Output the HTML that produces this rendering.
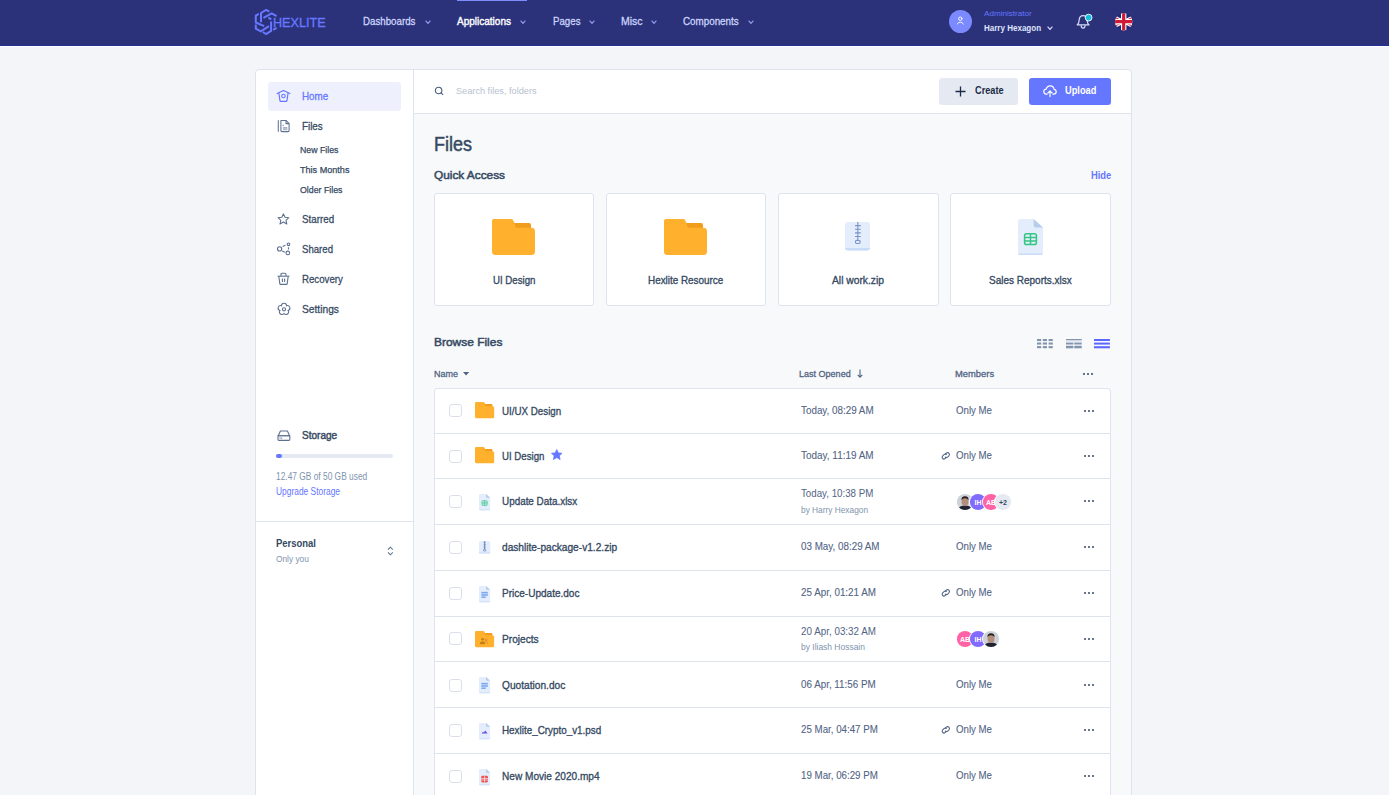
<!DOCTYPE html><html><head><meta charset="utf-8"><style>
html,body{margin:0;padding:0;width:1389px;height:795px;overflow:hidden;background:#f4f5f9;font-family:"Liberation Sans",sans-serif;}
</style></head><body>
<div style="position:absolute;left:0px;top:0px;width:1389px;height:45px;background:#2b327a"></div>
<div style="position:absolute;left:0px;top:45px;width:1389px;height:1px;background:#232e96"></div>
<div style="position:absolute;left:0px;top:46px;width:1389px;height:1px;background:#ffffff"></div>
<div style="position:absolute;left:457px;top:0px;width:70px;height:1px;background:#7f8cff"></div>
<svg style="position:absolute;left:252px;top:6px;overflow:visible" width="28" height="32" viewBox="0 0 28 32"><g fill="none" stroke="#6877ff" stroke-width="2" stroke-linejoin="miter" stroke-linecap="butt"><path d="M6.8 7.9 L3.8 9.6 V16.5 L12.2 20.2"/><path d="M3.8 18.4 V22.6 L8.8 25.3 L17 20.2"/><path d="M9 16.2 V7 L14.1 3.9 L17.4 5.7"/><path d="M11.4 11.8 L19.7 7.4 L24.6 10.2"/><path d="M16.4 11.7 L19.3 13.4"/><path d="M19.1 15.4 V24.9 L14.1 28.1 L10.8 26"/><path d="M21.2 23.8 L24.6 21.9"/></g></svg>
<div style="position:absolute;left:273.20px;top:16.00px;font-size:13.60px;line-height:13.60px;color:#6877ff;white-space:nowrap;transform:scaleX(0.9279);transform-origin:0 0;-webkit-text-stroke:0.35px #6877ff;">HEXLITE</div>
<div style="position:absolute;left:363.40px;top:16.00px;font-size:11.40px;line-height:11.40px;color:#cdd4fb;white-space:nowrap;transform:scaleX(0.8541);transform-origin:0 0;-webkit-text-stroke:0.30px #cdd4fb;">Dashboards</div>
<div style="position:absolute;left:457.30px;top:16.00px;font-size:11.40px;line-height:11.40px;color:#ffffff;white-space:nowrap;transform:scaleX(0.8785);transform-origin:0 0;-webkit-text-stroke:0.40px #ffffff;">Applications</div>
<div style="position:absolute;left:552.50px;top:16.00px;font-size:11.40px;line-height:11.40px;color:#cdd4fb;white-space:nowrap;transform:scaleX(0.8509);transform-origin:0 0;-webkit-text-stroke:0.30px #cdd4fb;">Pages</div>
<div style="position:absolute;left:620.50px;top:16.00px;font-size:11.40px;line-height:11.40px;color:#cdd4fb;white-space:nowrap;transform:scaleX(0.9220);transform-origin:0 0;-webkit-text-stroke:0.30px #cdd4fb;">Misc</div>
<div style="position:absolute;left:683.20px;top:16.00px;font-size:11.40px;line-height:11.40px;color:#cdd4fb;white-space:nowrap;transform:scaleX(0.8617);transform-origin:0 0;-webkit-text-stroke:0.30px #cdd4fb;">Components</div>
<svg style="position:absolute;left:425px;top:19.5px" width="6" height="4" viewBox="0 0 6 4"><path d="M0.6 0.6 L3.0 3.4 L5.4 0.6" fill="none" stroke="#8d98e8" stroke-width="1.2"/></svg>
<svg style="position:absolute;left:520px;top:19.5px" width="6" height="4" viewBox="0 0 6 4"><path d="M0.6 0.6 L3.0 3.4 L5.4 0.6" fill="none" stroke="#8d98e8" stroke-width="1.2"/></svg>
<svg style="position:absolute;left:589px;top:19.5px" width="6" height="4" viewBox="0 0 6 4"><path d="M0.6 0.6 L3.0 3.4 L5.4 0.6" fill="none" stroke="#8d98e8" stroke-width="1.2"/></svg>
<svg style="position:absolute;left:651px;top:19.5px" width="6" height="4" viewBox="0 0 6 4"><path d="M0.6 0.6 L3.0 3.4 L5.4 0.6" fill="none" stroke="#8d98e8" stroke-width="1.2"/></svg>
<svg style="position:absolute;left:748px;top:19.5px" width="6" height="4" viewBox="0 0 6 4"><path d="M0.6 0.6 L3.0 3.4 L5.4 0.6" fill="none" stroke="#8d98e8" stroke-width="1.2"/></svg>
<div style="position:absolute;left:949px;top:10px;width:23px;height:23px;background:#7b8bff;border-radius:50%"></div>
<svg style="position:absolute;left:954px;top:15px;overflow:visible" width="13" height="13" viewBox="0 0 13 13"><g fill="none" stroke="#fff" stroke-width="0.9" stroke-linecap="round"><circle cx="6.3" cy="3.7" r="1.7"/><path d="M3.2 9 Q6.3 5 9.4 9"/></g></svg>
<div style="position:absolute;left:983.60px;top:10.00px;font-size:7.20px;line-height:7.20px;color:#6576ff;white-space:nowrap;transform:scaleX(1.1270);transform-origin:0 0;">Administrator</div>
<div style="position:absolute;left:983.60px;top:23.00px;font-size:9.90px;line-height:9.90px;color:#dfe4fb;white-space:nowrap;transform:scaleX(0.8122);transform-origin:0 0;font-weight:700;">Harry Hexagon</div>
<svg style="position:absolute;left:1046.5px;top:26px" width="6" height="4" viewBox="0 0 6 4"><path d="M0.6 0.6 L3.0 3.4 L5.4 0.6" fill="none" stroke="#c7cef8" stroke-width="1.3"/></svg>
<svg style="position:absolute;left:1075px;top:13px;overflow:visible" width="17" height="17" viewBox="0 0 17 17"><g fill="none" stroke="#d5dbfa" stroke-width="1.2" stroke-linejoin="round"><path d="M2.2 11.8 Q3.6 10.8 3.9 8.6 L4.2 6.6 Q4.6 2.6 8.1 2.6 Q11.6 2.6 12 6.6 L12.3 8.6 Q12.6 10.8 14 11.8 Z"/><path d="M6.1 12.2 Q6.2 15.2 8.1 15.2 Q10 15.2 10.1 12.2"/></g></svg>
<svg style="position:absolute;left:1085px;top:14px;overflow:visible" width="8" height="8" viewBox="0 0 8 8"><circle cx="3.6" cy="3.6" r="3.4" fill="#12bfe0" stroke="#ffffff" stroke-width="0.9"/></svg>
<svg style="position:absolute;left:1114.8px;top:12.8px;overflow:visible" width="17.4" height="17.4" viewBox="0 0 17.4 17.4"><defs><clipPath id="fc"><circle cx="8.7" cy="8.7" r="8.7"/></clipPath></defs><g clip-path="url(#fc)"><rect x="-10" y="0" width="37.4" height="17.4" fill="#1b2a7c"/><path d="M-9.5 -0.5 L27 17.9 M27 -0.5 L-9.5 17.9" stroke="#fff" stroke-width="3.4"/><path d="M-9.5 -0.5 L8.7 8.7 M27 -0.5 L8.7 8.7 M-9.5 17.9 L8.7 8.7 M27 17.9 L8.7 8.7" stroke="#cf1a35" stroke-width="1.1"/><path d="M8.7 -1 V18.4 M-10 8.7 H27.4" stroke="#fff" stroke-width="5.4"/><path d="M8.7 -1 V18.4 M-10 8.7 H27.4" stroke="#cf1a35" stroke-width="3.2"/></g></svg>
<div style="position:absolute;left:255px;top:69px;width:877px;height:800px;background:#fff;border:1px solid #dfe3ee;border-radius:4px;box-sizing:border-box"></div>
<div style="position:absolute;left:413px;top:70px;width:1px;height:740px;background:#dfe3ee"></div>
<div style="position:absolute;left:414px;top:114px;width:717px;height:700px;background:#f8f9fb"></div>
<div style="position:absolute;left:414px;top:113px;width:717px;height:1px;background:#dfe3ee"></div>
<div style="position:absolute;left:268px;top:82px;width:133px;height:28.5px;background:#eef0fd;border-radius:3px"></div>
<div style="position:absolute;left:302.40px;top:90.00px;font-size:11.60px;line-height:11.60px;color:#6576ff;white-space:nowrap;transform:scaleX(0.8498);transform-origin:0 0;-webkit-text-stroke:0.30px #6576ff;">Home</div>
<div style="position:absolute;left:302.40px;top:120.00px;font-size:11.60px;line-height:11.60px;color:#364a63;white-space:nowrap;transform:scaleX(0.8453);transform-origin:0 0;-webkit-text-stroke:0.30px #364a63;">Files</div>
<div style="position:absolute;left:299.50px;top:146.00px;font-size:9.20px;line-height:9.20px;color:#364a63;white-space:nowrap;transform:scaleX(0.9533);transform-origin:0 0;-webkit-text-stroke:0.25px #364a63;">New Files</div>
<div style="position:absolute;left:299.50px;top:166.00px;font-size:9.20px;line-height:9.20px;color:#364a63;white-space:nowrap;transform:scaleX(0.9880);transform-origin:0 0;-webkit-text-stroke:0.25px #364a63;">This Months</div>
<div style="position:absolute;left:299.50px;top:186.00px;font-size:9.20px;line-height:9.20px;color:#364a63;white-space:nowrap;transform:scaleX(0.9554);transform-origin:0 0;-webkit-text-stroke:0.25px #364a63;">Older Files</div>
<div style="position:absolute;left:302.30px;top:213.00px;font-size:11.60px;line-height:11.60px;color:#364a63;white-space:nowrap;transform:scaleX(0.8439);transform-origin:0 0;-webkit-text-stroke:0.30px #364a63;">Starred</div>
<div style="position:absolute;left:302.30px;top:243.00px;font-size:11.60px;line-height:11.60px;color:#364a63;white-space:nowrap;transform:scaleX(0.8287);transform-origin:0 0;-webkit-text-stroke:0.30px #364a63;">Shared</div>
<div style="position:absolute;left:302.30px;top:273.00px;font-size:11.60px;line-height:11.60px;color:#364a63;white-space:nowrap;transform:scaleX(0.8347);transform-origin:0 0;-webkit-text-stroke:0.30px #364a63;">Recovery</div>
<div style="position:absolute;left:302.30px;top:303.00px;font-size:11.60px;line-height:11.60px;color:#364a63;white-space:nowrap;transform:scaleX(0.8828);transform-origin:0 0;-webkit-text-stroke:0.30px #364a63;">Settings</div>
<div style="position:absolute;left:302.30px;top:430.00px;font-size:10.80px;line-height:10.80px;color:#364a63;white-space:nowrap;transform:scaleX(0.9307);transform-origin:0 0;-webkit-text-stroke:0.45px #364a63;">Storage</div>
<div style="position:absolute;left:276px;top:454px;width:117px;height:4px;background:#e5e9f2;border-radius:2px"></div>
<div style="position:absolute;left:276px;top:454px;width:6px;height:4px;background:#6576ff;border-radius:2px"></div>
<div style="position:absolute;left:276.00px;top:472.00px;font-size:10.20px;line-height:10.20px;color:#8094ae;white-space:nowrap;transform:scaleX(0.8215);transform-origin:0 0;">12.47 GB of 50 GB used</div>
<div style="position:absolute;left:276.00px;top:487.00px;font-size:10.20px;line-height:10.20px;color:#6576ff;white-space:nowrap;transform:scaleX(0.8251);transform-origin:0 0;">Upgrade Storage</div>
<div style="position:absolute;left:255px;top:521px;width:158px;height:1px;background:#dfe3ee"></div>
<div style="position:absolute;left:276.00px;top:538.00px;font-size:11.00px;line-height:11.00px;color:#364a63;white-space:nowrap;transform:scaleX(0.8609);transform-origin:0 0;font-weight:700;">Personal</div>
<div style="position:absolute;left:276.00px;top:554.00px;font-size:9.60px;line-height:9.60px;color:#8094ae;white-space:nowrap;transform:scaleX(0.8685);transform-origin:0 0;">Only you</div>
<div style="position:absolute;left:456.00px;top:87.00px;font-size:9.20px;line-height:9.20px;color:#b7c2d0;white-space:nowrap;transform:scaleX(0.9988);transform-origin:0 0;">Search files, folders</div>
<div style="position:absolute;left:939px;top:78px;width:79px;height:27px;background:#e5e9f2;border-radius:3px"></div>
<div style="position:absolute;left:975.00px;top:85.00px;font-size:11.00px;line-height:11.00px;color:#1c2b46;white-space:nowrap;transform:scaleX(0.8352);transform-origin:0 0;font-weight:700;">Create</div>
<div style="position:absolute;left:1029px;top:78px;width:82px;height:27px;background:#6576ff;border-radius:3px"></div>
<div style="position:absolute;left:1065.00px;top:85.00px;font-size:11.00px;line-height:11.00px;color:#ffffff;white-space:nowrap;transform:scaleX(0.8396);transform-origin:0 0;font-weight:700;">Upload</div>
<div style="position:absolute;left:434.30px;top:135.00px;font-size:19.60px;line-height:19.60px;color:#364a63;white-space:nowrap;transform:scaleX(0.9184);transform-origin:0 0;-webkit-text-stroke:0.50px #364a63;">Files</div>
<div style="position:absolute;left:434.30px;top:170.00px;font-size:11.30px;line-height:11.30px;color:#364a63;white-space:nowrap;transform:scaleX(1.0468);transform-origin:0 0;-webkit-text-stroke:0.50px #364a63;">Quick Access</div>
<div style="position:absolute;left:1090.60px;top:171.00px;font-size:10.00px;line-height:10.00px;color:#6576ff;white-space:nowrap;transform:scaleX(0.9368);transform-origin:0 0;font-weight:700;">Hide</div>
<div style="position:absolute;left:434px;top:193px;width:160px;height:113px;background:#fff;border:1px solid #dfe3ee;border-radius:3px;box-sizing:border-box"></div>
<div style="position:absolute;left:492.60px;top:275.00px;font-size:11.20px;line-height:11.20px;color:#364a63;white-space:nowrap;transform:scaleX(0.8642);transform-origin:0 0;-webkit-text-stroke:0.35px #364a63;">UI Design</div>
<div style="position:absolute;left:606px;top:193px;width:160px;height:113px;background:#fff;border:1px solid #dfe3ee;border-radius:3px;box-sizing:border-box"></div>
<div style="position:absolute;left:648.10px;top:275.00px;font-size:11.20px;line-height:11.20px;color:#364a63;white-space:nowrap;transform:scaleX(0.8830);transform-origin:0 0;-webkit-text-stroke:0.35px #364a63;">Hexlite Resource</div>
<div style="position:absolute;left:778px;top:193px;width:161px;height:113px;background:#fff;border:1px solid #dfe3ee;border-radius:3px;box-sizing:border-box"></div>
<div style="position:absolute;left:832.20px;top:275.00px;font-size:11.20px;line-height:11.20px;color:#364a63;white-space:nowrap;transform:scaleX(0.9181);transform-origin:0 0;-webkit-text-stroke:0.35px #364a63;">All work.zip</div>
<div style="position:absolute;left:950px;top:193px;width:161px;height:113px;background:#fff;border:1px solid #dfe3ee;border-radius:3px;box-sizing:border-box"></div>
<div style="position:absolute;left:988.80px;top:275.00px;font-size:11.20px;line-height:11.20px;color:#364a63;white-space:nowrap;transform:scaleX(0.8927);transform-origin:0 0;-webkit-text-stroke:0.35px #364a63;">Sales Reports.xlsx</div>
<div style="position:absolute;left:434.00px;top:337.00px;font-size:11.50px;line-height:11.50px;color:#364a63;white-space:nowrap;transform:scaleX(1.0391);transform-origin:0 0;-webkit-text-stroke:0.50px #364a63;">Browse Files</div>
<div style="position:absolute;left:434.00px;top:369.00px;font-size:9.60px;line-height:9.60px;color:#526484;white-space:nowrap;transform:scaleX(0.9370);transform-origin:0 0;-webkit-text-stroke:0.30px #526484;">Name</div>
<div style="position:absolute;left:799.30px;top:369.00px;font-size:9.60px;line-height:9.60px;color:#526484;white-space:nowrap;transform:scaleX(0.9404);transform-origin:0 0;-webkit-text-stroke:0.30px #526484;">Last Opened</div>
<div style="position:absolute;left:954.50px;top:369.00px;font-size:9.60px;line-height:9.60px;color:#526484;white-space:nowrap;transform:scaleX(0.9772);transform-origin:0 0;-webkit-text-stroke:0.30px #526484;">Members</div>
<div style="position:absolute;left:434px;top:388px;width:677px;height:500px;background:#fff;border:1px solid #dfe3ee;border-radius:3px;box-sizing:border-box"></div>
<div style="position:absolute;left:435px;top:433px;width:675px;height:1px;background:#dfe3ee"></div>
<div style="position:absolute;left:435px;top:478px;width:675px;height:1px;background:#dfe3ee"></div>
<div style="position:absolute;left:435px;top:524px;width:675px;height:1px;background:#dfe3ee"></div>
<div style="position:absolute;left:435px;top:570px;width:675px;height:1px;background:#dfe3ee"></div>
<div style="position:absolute;left:435px;top:616px;width:675px;height:1px;background:#dfe3ee"></div>
<div style="position:absolute;left:435px;top:661px;width:675px;height:1px;background:#dfe3ee"></div>
<div style="position:absolute;left:435px;top:707px;width:675px;height:1px;background:#dfe3ee"></div>
<div style="position:absolute;left:435px;top:753px;width:675px;height:1px;background:#dfe3ee"></div>
<div style="position:absolute;left:435px;top:799px;width:675px;height:1px;background:#dfe3ee"></div>
<div style="position:absolute;left:449px;top:404px;width:13px;height:13px;border:1px solid #dbdfea;border-radius:3px;box-sizing:border-box;background:#fff"></div>
<div style="position:absolute;left:501.90px;top:405.00px;font-size:11.60px;line-height:11.60px;color:#364a63;white-space:nowrap;transform:scaleX(0.8424);transform-origin:0 0;-webkit-text-stroke:0.35px #364a63;">UI/UX Design</div>
<div style="position:absolute;left:801.00px;top:405.00px;font-size:11.40px;line-height:11.40px;color:#526484;white-space:nowrap;transform:scaleX(0.8647);transform-origin:0 0;-webkit-text-stroke:0.10px #526484;">Today, 08:29 AM</div>
<div style="position:absolute;left:956.00px;top:405.00px;font-size:11.40px;line-height:11.40px;color:#526484;white-space:nowrap;transform:scaleX(0.8482);transform-origin:0 0;-webkit-text-stroke:0.10px #526484;">Only Me</div>
<div style="position:absolute;left:1083.6px;top:409.6px;width:2.4px;height:2.4px;background:#364a63;border-radius:50%"></div>
<div style="position:absolute;left:1087.6px;top:409.6px;width:2.4px;height:2.4px;background:#364a63;border-radius:50%"></div>
<div style="position:absolute;left:1091.6px;top:409.6px;width:2.4px;height:2.4px;background:#364a63;border-radius:50%"></div>
<div style="position:absolute;left:449px;top:450px;width:13px;height:13px;border:1px solid #dbdfea;border-radius:3px;box-sizing:border-box;background:#fff"></div>
<div style="position:absolute;left:501.90px;top:450.00px;font-size:11.60px;line-height:11.60px;color:#364a63;white-space:nowrap;transform:scaleX(0.8324);transform-origin:0 0;-webkit-text-stroke:0.35px #364a63;">UI Design</div>
<div style="position:absolute;left:801.00px;top:450.00px;font-size:11.40px;line-height:11.40px;color:#526484;white-space:nowrap;transform:scaleX(0.8735);transform-origin:0 0;-webkit-text-stroke:0.10px #526484;">Today, 11:19 AM</div>
<div style="position:absolute;left:956.00px;top:450.00px;font-size:11.40px;line-height:11.40px;color:#526484;white-space:nowrap;transform:scaleX(0.8482);transform-origin:0 0;-webkit-text-stroke:0.10px #526484;">Only Me</div>
<div style="position:absolute;left:1083.6px;top:454.6px;width:2.4px;height:2.4px;background:#364a63;border-radius:50%"></div>
<div style="position:absolute;left:1087.6px;top:454.6px;width:2.4px;height:2.4px;background:#364a63;border-radius:50%"></div>
<div style="position:absolute;left:1091.6px;top:454.6px;width:2.4px;height:2.4px;background:#364a63;border-radius:50%"></div>
<div style="position:absolute;left:449px;top:495px;width:13px;height:13px;border:1px solid #dbdfea;border-radius:3px;box-sizing:border-box;background:#fff"></div>
<div style="position:absolute;left:501.90px;top:495.00px;font-size:11.60px;line-height:11.60px;color:#364a63;white-space:nowrap;transform:scaleX(0.8524);transform-origin:0 0;-webkit-text-stroke:0.35px #364a63;">Update Data.xlsx</div>
<div style="position:absolute;left:801.00px;top:488.00px;font-size:11.40px;line-height:11.40px;color:#526484;white-space:nowrap;transform:scaleX(0.8548);transform-origin:0 0;">Today, 10:38 PM</div>
<div style="position:absolute;left:801.00px;top:505.00px;font-size:9.40px;line-height:9.40px;color:#8094ae;white-space:nowrap;transform:scaleX(0.8871);transform-origin:0 0;">by Harry Hexagon</div>
<div style="position:absolute;left:1083.6px;top:500.1px;width:2.4px;height:2.4px;background:#364a63;border-radius:50%"></div>
<div style="position:absolute;left:1087.6px;top:500.1px;width:2.4px;height:2.4px;background:#364a63;border-radius:50%"></div>
<div style="position:absolute;left:1091.6px;top:500.1px;width:2.4px;height:2.4px;background:#364a63;border-radius:50%"></div>
<div style="position:absolute;left:449px;top:541px;width:13px;height:13px;border:1px solid #dbdfea;border-radius:3px;box-sizing:border-box;background:#fff"></div>
<div style="position:absolute;left:501.90px;top:541.00px;font-size:11.60px;line-height:11.60px;color:#364a63;white-space:nowrap;transform:scaleX(0.8758);transform-origin:0 0;-webkit-text-stroke:0.35px #364a63;">dashlite-package-v1.2.zip</div>
<div style="position:absolute;left:801.00px;top:541.00px;font-size:11.40px;line-height:11.40px;color:#526484;white-space:nowrap;transform:scaleX(0.8634);transform-origin:0 0;-webkit-text-stroke:0.10px #526484;">03 May, 08:29 AM</div>
<div style="position:absolute;left:956.00px;top:541.00px;font-size:11.40px;line-height:11.40px;color:#526484;white-space:nowrap;transform:scaleX(0.8482);transform-origin:0 0;-webkit-text-stroke:0.10px #526484;">Only Me</div>
<div style="position:absolute;left:1083.6px;top:546.1px;width:2.4px;height:2.4px;background:#364a63;border-radius:50%"></div>
<div style="position:absolute;left:1087.6px;top:546.1px;width:2.4px;height:2.4px;background:#364a63;border-radius:50%"></div>
<div style="position:absolute;left:1091.6px;top:546.1px;width:2.4px;height:2.4px;background:#364a63;border-radius:50%"></div>
<div style="position:absolute;left:449px;top:587px;width:13px;height:13px;border:1px solid #dbdfea;border-radius:3px;box-sizing:border-box;background:#fff"></div>
<div style="position:absolute;left:501.90px;top:587.00px;font-size:11.60px;line-height:11.60px;color:#364a63;white-space:nowrap;transform:scaleX(0.8647);transform-origin:0 0;-webkit-text-stroke:0.35px #364a63;">Price-Update.doc</div>
<div style="position:absolute;left:801.00px;top:587.00px;font-size:11.40px;line-height:11.40px;color:#526484;white-space:nowrap;transform:scaleX(0.8649);transform-origin:0 0;-webkit-text-stroke:0.10px #526484;">25 Apr, 01:21 AM</div>
<div style="position:absolute;left:956.00px;top:587.00px;font-size:11.40px;line-height:11.40px;color:#526484;white-space:nowrap;transform:scaleX(0.8482);transform-origin:0 0;-webkit-text-stroke:0.10px #526484;">Only Me</div>
<div style="position:absolute;left:1083.6px;top:592.1px;width:2.4px;height:2.4px;background:#364a63;border-radius:50%"></div>
<div style="position:absolute;left:1087.6px;top:592.1px;width:2.4px;height:2.4px;background:#364a63;border-radius:50%"></div>
<div style="position:absolute;left:1091.6px;top:592.1px;width:2.4px;height:2.4px;background:#364a63;border-radius:50%"></div>
<div style="position:absolute;left:449px;top:632px;width:13px;height:13px;border:1px solid #dbdfea;border-radius:3px;box-sizing:border-box;background:#fff"></div>
<div style="position:absolute;left:501.90px;top:633.00px;font-size:11.60px;line-height:11.60px;color:#364a63;white-space:nowrap;transform:scaleX(0.8759);transform-origin:0 0;-webkit-text-stroke:0.35px #364a63;">Projects</div>
<div style="position:absolute;left:801.00px;top:626.00px;font-size:11.40px;line-height:11.40px;color:#526484;white-space:nowrap;transform:scaleX(0.8649);transform-origin:0 0;">20 Apr, 03:32 AM</div>
<div style="position:absolute;left:801.00px;top:642.00px;font-size:9.40px;line-height:9.40px;color:#8094ae;white-space:nowrap;transform:scaleX(0.9021);transform-origin:0 0;">by Iliash Hossain</div>
<div style="position:absolute;left:1083.6px;top:637.6px;width:2.4px;height:2.4px;background:#364a63;border-radius:50%"></div>
<div style="position:absolute;left:1087.6px;top:637.6px;width:2.4px;height:2.4px;background:#364a63;border-radius:50%"></div>
<div style="position:absolute;left:1091.6px;top:637.6px;width:2.4px;height:2.4px;background:#364a63;border-radius:50%"></div>
<div style="position:absolute;left:449px;top:679px;width:13px;height:13px;border:1px solid #dbdfea;border-radius:3px;box-sizing:border-box;background:#fff"></div>
<div style="position:absolute;left:501.90px;top:679.00px;font-size:11.60px;line-height:11.60px;color:#364a63;white-space:nowrap;transform:scaleX(0.8763);transform-origin:0 0;-webkit-text-stroke:0.35px #364a63;">Quotation.doc</div>
<div style="position:absolute;left:801.00px;top:679.00px;font-size:11.40px;line-height:11.40px;color:#526484;white-space:nowrap;transform:scaleX(0.8636);transform-origin:0 0;-webkit-text-stroke:0.10px #526484;">06 Apr, 11:56 PM</div>
<div style="position:absolute;left:956.00px;top:679.00px;font-size:11.40px;line-height:11.40px;color:#526484;white-space:nowrap;transform:scaleX(0.8482);transform-origin:0 0;-webkit-text-stroke:0.10px #526484;">Only Me</div>
<div style="position:absolute;left:1083.6px;top:683.7px;width:2.4px;height:2.4px;background:#364a63;border-radius:50%"></div>
<div style="position:absolute;left:1087.6px;top:683.7px;width:2.4px;height:2.4px;background:#364a63;border-radius:50%"></div>
<div style="position:absolute;left:1091.6px;top:683.7px;width:2.4px;height:2.4px;background:#364a63;border-radius:50%"></div>
<div style="position:absolute;left:449px;top:724px;width:13px;height:13px;border:1px solid #dbdfea;border-radius:3px;box-sizing:border-box;background:#fff"></div>
<div style="position:absolute;left:501.90px;top:724.00px;font-size:11.60px;line-height:11.60px;color:#364a63;white-space:nowrap;transform:scaleX(0.8508);transform-origin:0 0;-webkit-text-stroke:0.35px #364a63;">Hexlite_Crypto_v1.psd</div>
<div style="position:absolute;left:801.00px;top:724.00px;font-size:11.40px;line-height:11.40px;color:#526484;white-space:nowrap;transform:scaleX(0.8546);transform-origin:0 0;-webkit-text-stroke:0.10px #526484;">25 Mar, 04:47 PM</div>
<div style="position:absolute;left:956.00px;top:724.00px;font-size:11.40px;line-height:11.40px;color:#526484;white-space:nowrap;transform:scaleX(0.8482);transform-origin:0 0;-webkit-text-stroke:0.10px #526484;">Only Me</div>
<div style="position:absolute;left:1083.6px;top:729.1px;width:2.4px;height:2.4px;background:#364a63;border-radius:50%"></div>
<div style="position:absolute;left:1087.6px;top:729.1px;width:2.4px;height:2.4px;background:#364a63;border-radius:50%"></div>
<div style="position:absolute;left:1091.6px;top:729.1px;width:2.4px;height:2.4px;background:#364a63;border-radius:50%"></div>
<div style="position:absolute;left:449px;top:770px;width:13px;height:13px;border:1px solid #dbdfea;border-radius:3px;box-sizing:border-box;background:#fff"></div>
<div style="position:absolute;left:501.90px;top:770.00px;font-size:11.60px;line-height:11.60px;color:#364a63;white-space:nowrap;transform:scaleX(0.8700);transform-origin:0 0;-webkit-text-stroke:0.35px #364a63;">New Movie 2020.mp4</div>
<div style="position:absolute;left:801.00px;top:770.00px;font-size:11.40px;line-height:11.40px;color:#526484;white-space:nowrap;transform:scaleX(0.8546);transform-origin:0 0;-webkit-text-stroke:0.10px #526484;">19 Mar, 06:29 PM</div>
<div style="position:absolute;left:956.00px;top:770.00px;font-size:11.40px;line-height:11.40px;color:#526484;white-space:nowrap;transform:scaleX(0.8482);transform-origin:0 0;-webkit-text-stroke:0.10px #526484;">Only Me</div>
<div style="position:absolute;left:1083.6px;top:775.1px;width:2.4px;height:2.4px;background:#364a63;border-radius:50%"></div>
<div style="position:absolute;left:1087.6px;top:775.1px;width:2.4px;height:2.4px;background:#364a63;border-radius:50%"></div>
<div style="position:absolute;left:1091.6px;top:775.1px;width:2.4px;height:2.4px;background:#364a63;border-radius:50%"></div>
<svg style="position:absolute;left:276px;top:89px;overflow:visible" width="15" height="14" viewBox="0 0 15 14"><g fill="none" stroke="#6576ff" stroke-width="1.15" stroke-linejoin="round" stroke-linecap="round"><path d="M1.1 4.6 L7.45 1.4 L13.9 4.6"/><path d="M2.9 4.4 L3.9 11.4 Q4 12.4 5 12.4 L9.9 12.4 Q10.9 12.4 11 11.4 L12 4.4"/><circle cx="7.45" cy="7" r="1.75"/></g></svg>
<svg style="position:absolute;left:276px;top:119px;overflow:visible" width="15" height="14" viewBox="0 0 15 14"><g fill="none" stroke="#5f7191" stroke-width="1.05" stroke-linejoin="round"><path d="M2.3 1.2 L2.3 12.8"/><path d="M4.9 1.4 L10 1.4 L13.1 4.6 L13.1 11.6 Q13.1 12.6 12.1 12.6 L5.9 12.6 Q4.9 12.6 4.9 11.6 Z"/><path d="M10 1.4 L10 4.6 L13.1 4.6"/><path d="M6.6 6.3 H8" stroke-width="0.8"/></g><rect x="6.9" y="8" width="4.4" height="3.2" fill="#9aa8bf"/><path d="M6.9 9.1 H11.3 M6.9 10.1 H11.3" stroke="#fff" stroke-width="0.35"/></svg>
<svg style="position:absolute;left:277px;top:213px;overflow:visible" width="13" height="12" viewBox="0 0 13 12"><path d="M6.4 0.9 L8 4.3 L11.8 4.7 L9 7.3 L9.8 11 L6.4 9.1 L3 11 L3.8 7.3 L1 4.7 L4.8 4.3 Z" fill="none" stroke="#5f7191" stroke-width="1.1" stroke-linejoin="round"/></svg>
<svg style="position:absolute;left:277px;top:242px;overflow:visible" width="13" height="13" viewBox="0 0 13 13"><g fill="none" stroke="#5f7191" stroke-width="1.1"><circle cx="2.6" cy="6.9" r="2.1"/><circle cx="11.5" cy="2.3" r="1.3"/><circle cx="10.8" cy="10.9" r="1.8"/><path d="M5.6 4.4 L8.4 3.2 M11.5 5.2 V7.6 M5.2 8.9 L7.8 10.2"/></g></svg>
<svg style="position:absolute;left:277px;top:272px;overflow:visible" width="13" height="13" viewBox="0 0 13 13"><g fill="none" stroke="#5f7191" stroke-width="1.1" stroke-linejoin="round"><path d="M0.6 4.2 H12.4"/><path d="M4 4 V2.4 Q4 1.2 5.2 1.2 H7.8 Q9 1.2 9 2.4 V4"/><path d="M1.8 4.2 L2.8 11.6 Q2.9 12.4 3.7 12.4 H9.3 Q10.1 12.4 10.2 11.6 L11.2 4.2"/><path d="M5.4 6.4 V10 M7.6 6.4 V10"/></g></svg>
<svg style="position:absolute;left:277.5px;top:303px;overflow:visible" width="12" height="12.5" viewBox="0 0 12 12.5"><g fill="none" stroke="#5f7191" stroke-width="1.1"><path d="M3.47 2.72 A2.2 2.2 0 0 1 8.53 2.72 A2.2 2.2 0 0 1 10.09 7.53 A2.2 2.2 0 0 1 6.00 10.50 A2.2 2.2 0 0 1 1.91 7.53 A2.2 2.2 0 0 1 3.47 2.72 Z"/><circle cx="6" cy="6.3" r="1.6"/></g></svg>
<svg style="position:absolute;left:277px;top:429.5px;overflow:visible" width="14" height="11" viewBox="0 0 14 11"><g fill="none" stroke="#5f7191" stroke-width="1.1" stroke-linejoin="round"><path d="M3.4 1 H10.4 L12.6 5.8 H1.2 Z"/><path d="M1 5.8 H12.8 V9.6 Q12.8 10.4 12 10.4 H1.8 Q1 10.4 1 9.6 Z"/><path d="M2.6 8.1 H5.2" stroke-dasharray="0.9 0.7"/></g></svg>
<svg style="position:absolute;left:386.5px;top:545.5px;overflow:visible" width="7" height="10" viewBox="0 0 7 10"><g fill="none" stroke="#5f7191" stroke-width="1.1"><path d="M1 3.6 L3.4 1.2 L5.8 3.6 M1 6.4 L3.4 8.8 L5.8 6.4"/></g></svg>
<svg style="position:absolute;left:433.5px;top:85.8px;overflow:visible" width="10" height="10" viewBox="0 0 10 10"><g fill="none" stroke="#4a5d7e" stroke-width="1.05"><circle cx="4.6" cy="4.5" r="3.3"/><path d="M7 6.9 L9.2 8.9"/></g></svg>
<svg style="position:absolute;left:954.5px;top:85.5px;overflow:visible" width="11" height="11" viewBox="0 0 11 11"><path d="M5.5 0.5 V10.5 M0.5 5.5 H10.5" stroke="#1c2b46" stroke-width="1.3"/></svg>
<svg style="position:absolute;left:1043px;top:85px;overflow:visible" width="14" height="12" viewBox="0 0 14 12"><g fill="none" stroke="#fff" stroke-width="1.2" stroke-linecap="round" stroke-linejoin="round"><path d="M4 9.2 H3.4 Q0.8 9.2 0.8 6.6 Q0.8 4.3 3.2 4.1 Q4 0.9 7.2 0.9 Q10.6 0.9 11 4.3 Q13.2 4.6 13.2 6.8 Q13.2 9.2 10.6 9.2 H10"/><path d="M7 11.6 V6 M4.9 8 L7 5.9 L9.1 8"/></g></svg>
<svg style="position:absolute;left:492px;top:219px;overflow:visible" width="43" height="36" viewBox="0 0 43 36"><path d="M0 3 Q0 0 3 0 L19 0 Q20.3 0 20.9 1.2 L22.4 4 L37 4 Q39 4 39 6 L39 12 L22 12 Z" fill="#f29c1d"/><path d="M0 3 Q0 0 3 0 L19 0 Q20.3 0 20.9 1.2 L24 8.8 L39.5 8.8 Q43 8.8 43 12.3 L43 32.5 Q43 36 39.5 36 L3.5 36 Q0 36 0 32.5 Z" fill="#ffb12e"/></svg>
<svg style="position:absolute;left:664px;top:219px;overflow:visible" width="43" height="36" viewBox="0 0 43 36"><path d="M0 3 Q0 0 3 0 L19 0 Q20.3 0 20.9 1.2 L22.4 4 L37 4 Q39 4 39 6 L39 12 L22 12 Z" fill="#f29c1d"/><path d="M0 3 Q0 0 3 0 L19 0 Q20.3 0 20.9 1.2 L24 8.8 L39.5 8.8 Q43 8.8 43 12.3 L43 32.5 Q43 36 39.5 36 L3.5 36 Q0 36 0 32.5 Z" fill="#ffb12e"/></svg>
<svg style="position:absolute;left:845px;top:222.3px;overflow:visible" width="25" height="28.6" viewBox="0 0 25 28.6"><rect x="0" y="0" width="25" height="28.6" rx="3" fill="#e3edfc"/><path d="M0 26 H25 V25.6 Q25 28.6 22 28.6 H3 Q0 28.6 0 25.6 Z" fill="#c9dbf6"/><g stroke="#7b93c8" stroke-width="1.1" fill="none"><path d="M12.8 0 V18.4"/><path d="M10 3.6 H15.8 M10 7.2 H15.8 M10 10.9 H15.8 M10 14.5 H15.8"/><rect x="10.4" y="18.4" width="4.8" height="3.1" rx="1.4"/></g></svg>
<svg style="position:absolute;left:1018.2px;top:218.8px;overflow:visible" width="25" height="36" viewBox="0 0 25 36"><path d="M0 2.5 Q0 0 2.5 0 L15.6 0 L25 8.5 L25 33.5 Q25 36 22.5 36 L2.5 36 Q0 36 0 33.5 Z" fill="#e3edfc"/><path d="M0 34.4 L25 34.4 L25 34 Q25 36 23 36 L2 36 Q0 36 0 34 Z" fill="#c9dbf6"/><path d="M15.6 0 L25 8.5 L18 8.5 Q15.6 8.5 15.6 6 Z" fill="#b7cdeb"/><g fill="none" stroke="#36c684" stroke-width="1.5"><rect x="6.6" y="14.8" width="11.8" height="10.8" rx="1.8"/><path d="M12.5 14.8 V25.6 M6.6 18.4 H18.4 M6.6 22 H18.4"/></g></svg>
<svg style="position:absolute;left:1036.9px;top:338.6px;overflow:visible" width="16" height="9.3" viewBox="0 0 16 9.3"><rect x="0" y="0" width="4.2" height="2.1" fill="#8094ae"/><rect x="5.8" y="0" width="4.2" height="2.1" fill="#8094ae"/><rect x="11.6" y="0" width="4.2" height="2.1" fill="#8094ae"/><rect x="0" y="3.5" width="4.2" height="2.1" fill="#8094ae"/><rect x="5.8" y="3.5" width="4.2" height="2.1" fill="#8094ae"/><rect x="11.6" y="3.5" width="4.2" height="2.1" fill="#8094ae"/><rect x="0" y="7.1" width="4.2" height="2.1" fill="#8094ae"/><rect x="5.8" y="7.1" width="4.2" height="2.1" fill="#8094ae"/><rect x="11.6" y="7.1" width="4.2" height="2.1" fill="#8094ae"/></svg>
<svg style="position:absolute;left:1065.8px;top:338.6px;overflow:visible" width="16" height="9.3" viewBox="0 0 16 9.3"><g fill="#8094ae"><rect x="0" y="0" width="15.7" height="1.5"/><rect x="0" y="3.4" width="7.4" height="2.1"/><rect x="8.3" y="3.4" width="7.4" height="2.1"/><rect x="0" y="6.8" width="7.4" height="2.5"/><rect x="8.3" y="6.8" width="7.4" height="2.5"/></g><rect x="0" y="1.5" width="15.7" height="1.9" fill="#e5e9f2"/></svg>
<svg style="position:absolute;left:1094.3px;top:338.6px;overflow:visible" width="16" height="9.3" viewBox="0 0 16 9.3"><g fill="#5b68ff"><rect x="0" y="0" width="15.9" height="2"/><rect x="0" y="3.6" width="15.9" height="2"/><rect x="0" y="7.2" width="15.9" height="2.1"/></g></svg>
<div style="position:absolute;left:1082.7px;top:372.8px;width:2.3px;height:2.3px;background:#364a63;border-radius:50%"></div>
<div style="position:absolute;left:1086.7px;top:372.8px;width:2.3px;height:2.3px;background:#364a63;border-radius:50%"></div>
<div style="position:absolute;left:1090.7px;top:372.8px;width:2.3px;height:2.3px;background:#364a63;border-radius:50%"></div>
<svg style="position:absolute;left:463px;top:372px;overflow:visible" width="6.2" height="3.4" viewBox="0 0 6.2 3.4"><path d="M0 0 H6.2 L3.1 3.4 Z" fill="#526484"/></svg>
<svg style="position:absolute;left:856.5px;top:369px;overflow:visible" width="6" height="9" viewBox="0 0 6 9"><g fill="none" stroke="#526484" stroke-width="1.1"><path d="M3 0.5 V8 M0.7 5.8 L3 8.2 L5.3 5.8"/></g></svg>
<svg style="position:absolute;left:474.7px;top:402.2px;overflow:visible" width="19.2" height="16.5" viewBox="0 0 43 36"><path d="M0 3 Q0 0 3 0 L19 0 Q20.3 0 20.9 1.2 L22.4 4 L37 4 Q39 4 39 6 L39 12 L22 12 Z" fill="#f29c1d"/><path d="M0 3 Q0 0 3 0 L19 0 Q20.3 0 20.9 1.2 L24 8.8 L39.5 8.8 Q43 8.8 43 12.3 L43 32.5 Q43 36 39.5 36 L3.5 36 Q0 36 0 32.5 Z" fill="#ffb12e"/></svg>
<svg style="position:absolute;left:474.7px;top:447.2px;overflow:visible" width="19.2" height="16.5" viewBox="0 0 43 36"><path d="M0 3 Q0 0 3 0 L19 0 Q20.3 0 20.9 1.2 L22.4 4 L37 4 Q39 4 39 6 L39 12 L22 12 Z" fill="#f29c1d"/><path d="M0 3 Q0 0 3 0 L19 0 Q20.3 0 20.9 1.2 L24 8.8 L39.5 8.8 Q43 8.8 43 12.3 L43 32.5 Q43 36 39.5 36 L3.5 36 Q0 36 0 32.5 Z" fill="#ffb12e"/></svg>
<svg style="position:absolute;left:941px;top:450.9px;overflow:visible" width="10" height="10" viewBox="0 0 10 10"><g fill="none" stroke="#526484" stroke-width="1.1" stroke-linecap="round"><path d="M4.3 3.2 L5.3 2.2 Q6.6 0.9 7.9 2.2 Q9.1 3.5 7.9 4.8 L6.6 6.1 Q5.4 7.2 4.3 6.2"/><path d="M5.2 6.4 L4.2 7.4 Q2.9 8.7 1.7 7.5 Q0.5 6.2 1.7 4.9 L3 3.6 Q4.2 2.5 5.3 3.5"/></g></svg>
<svg style="position:absolute;left:478.9px;top:493.5px;overflow:visible" width="11.2" height="16.2" viewBox="0 0 25 36"><path d="M0 2.5 Q0 0 2.5 0 L15.6 0 L25 8.5 L25 33.5 Q25 36 22.5 36 L2.5 36 Q0 36 0 33.5 Z" fill="#e3edfc"/><path d="M0 34.4 L25 34.4 L25 34 Q25 36 23 36 L2 36 Q0 36 0 34 Z" fill="#c9dbf6"/><path d="M15.6 0 L25 8.5 L18 8.5 Q15.6 8.5 15.6 6 Z" fill="#b7cdeb"/><g fill="none" stroke="#36c684" stroke-width="1.5"><rect x="6.6" y="14.8" width="11.8" height="10.8" rx="1.8"/><path d="M12.5 14.8 V25.6 M6.6 18.4 H18.4 M6.6 22 H18.4"/></g></svg>
<svg style="position:absolute;left:478.8px;top:541.0px;overflow:visible" width="11.3" height="12.5" viewBox="0 0 11.3 12.5"><rect x="0" y="0" width="11.3" height="12.5" rx="1.5" fill="#e3edfc"/><rect x="0" y="11.5" width="11.3" height="1" fill="#c9dbf6"/><g stroke="#6f86c2" fill="none"><path d="M5.65 0 V8.6" stroke-width="0.9"/><path d="M4.6 1.7 H6.7 M4.6 3.4 H6.7 M4.6 5.1 H6.7 M4.6 6.8 H6.7" stroke-width="0.8"/><rect x="4.5" y="8.4" width="2.3" height="1.8" rx="0.8" stroke-width="0.8"/></g></svg>
<svg style="position:absolute;left:478.9px;top:585.5px;overflow:visible" width="11.2" height="16.2" viewBox="0 0 25 36"><path d="M0 2.5 Q0 0 2.5 0 L15.6 0 L25 8.5 L25 33.5 Q25 36 22.5 36 L2.5 36 Q0 36 0 33.5 Z" fill="#e3edfc"/><path d="M0 34.4 L25 34.4 L25 34 Q25 36 23 36 L2 36 Q0 36 0 34 Z" fill="#c9dbf6"/><path d="M15.6 0 L25 8.5 L18 8.5 Q15.6 8.5 15.6 6 Z" fill="#b7cdeb"/><g fill="#7ba8f0"><rect x="5.2" y="13" width="14.6" height="3.6"/><rect x="5.2" y="18.2" width="14.6" height="3.6"/><rect x="5.2" y="23.2" width="10" height="3.4"/></g></svg>
<svg style="position:absolute;left:941px;top:588.4px;overflow:visible" width="10" height="10" viewBox="0 0 10 10"><g fill="none" stroke="#526484" stroke-width="1.1" stroke-linecap="round"><path d="M4.3 3.2 L5.3 2.2 Q6.6 0.9 7.9 2.2 Q9.1 3.5 7.9 4.8 L6.6 6.1 Q5.4 7.2 4.3 6.2"/><path d="M5.2 6.4 L4.2 7.4 Q2.9 8.7 1.7 7.5 Q0.5 6.2 1.7 4.9 L3 3.6 Q4.2 2.5 5.3 3.5"/></g></svg>
<svg style="position:absolute;left:474.9px;top:631.3px;overflow:visible" width="19.1" height="16.5" viewBox="0 0 43 36"><path d="M0 3 Q0 0 3 0 L19 0 Q20.3 0 20.9 1.2 L22.4 4 L37 4 Q39 4 39 6 L39 12 L22 12 Z" fill="#f29c1d"/><path d="M0 3 Q0 0 3 0 L19 0 Q20.3 0 20.9 1.2 L24 8.8 L39.5 8.8 Q43 8.8 43 12.3 L43 32.5 Q43 36 39.5 36 L3.5 36 Q0 36 0 32.5 Z" fill="#ffb12e"/><g fill="#c57f14"><circle cx="17" cy="18" r="3"/><path d="M11 29 Q11 22.5 17 22.5 Q23 22.5 23 29 Z"/><circle cx="25" cy="19.5" r="2.2" fill="none" stroke="#c57f14" stroke-width="1.3"/><path d="M24 23.5 Q28 23.5 28 28" fill="none" stroke="#c57f14" stroke-width="1.3"/></g></svg>
<svg style="position:absolute;left:478.9px;top:676.5px;overflow:visible" width="11.2" height="16.2" viewBox="0 0 25 36"><path d="M0 2.5 Q0 0 2.5 0 L15.6 0 L25 8.5 L25 33.5 Q25 36 22.5 36 L2.5 36 Q0 36 0 33.5 Z" fill="#e3edfc"/><path d="M0 34.4 L25 34.4 L25 34 Q25 36 23 36 L2 36 Q0 36 0 34 Z" fill="#c9dbf6"/><path d="M15.6 0 L25 8.5 L18 8.5 Q15.6 8.5 15.6 6 Z" fill="#b7cdeb"/><g fill="#7ba8f0"><rect x="5.2" y="13" width="14.6" height="3.6"/><rect x="5.2" y="18.2" width="14.6" height="3.6"/><rect x="5.2" y="23.2" width="10" height="3.4"/></g></svg>
<svg style="position:absolute;left:478.9px;top:722.5px;overflow:visible" width="11.2" height="16.2" viewBox="0 0 25 36"><path d="M0 2.5 Q0 0 2.5 0 L15.6 0 L25 8.5 L25 33.5 Q25 36 22.5 36 L2.5 36 Q0 36 0 33.5 Z" fill="#e3edfc"/><path d="M0 34.4 L25 34.4 L25 34 Q25 36 23 36 L2 36 Q0 36 0 34 Z" fill="#c9dbf6"/><path d="M15.6 0 L25 8.5 L18 8.5 Q15.6 8.5 15.6 6 Z" fill="#b7cdeb"/><path d="M5.8 23.6 L8.6 19.6 L10.8 21.4 L14 16.6 L19.2 23.6 Z" fill="#6e4ee8"/></svg>
<svg style="position:absolute;left:941px;top:725.4px;overflow:visible" width="10" height="10" viewBox="0 0 10 10"><g fill="none" stroke="#526484" stroke-width="1.1" stroke-linecap="round"><path d="M4.3 3.2 L5.3 2.2 Q6.6 0.9 7.9 2.2 Q9.1 3.5 7.9 4.8 L6.6 6.1 Q5.4 7.2 4.3 6.2"/><path d="M5.2 6.4 L4.2 7.4 Q2.9 8.7 1.7 7.5 Q0.5 6.2 1.7 4.9 L3 3.6 Q4.2 2.5 5.3 3.5"/></g></svg>
<svg style="position:absolute;left:478.9px;top:768.5px;overflow:visible" width="11.2" height="16.2" viewBox="0 0 25 36"><path d="M0 2.5 Q0 0 2.5 0 L15.6 0 L25 8.5 L25 33.5 Q25 36 22.5 36 L2.5 36 Q0 36 0 33.5 Z" fill="#e3edfc"/><path d="M0 34.4 L25 34.4 L25 34 Q25 36 23 36 L2 36 Q0 36 0 34 Z" fill="#c9dbf6"/><path d="M15.6 0 L25 8.5 L18 8.5 Q15.6 8.5 15.6 6 Z" fill="#b7cdeb"/><g><rect x="5" y="15" width="15" height="15" rx="3" fill="#ea4f4f"/><path d="M12.5 15 V30 M5 21 H20 M5 24.5 H20" stroke="#fff" stroke-width="1.4"/></g></svg>
<svg style="position:absolute;left:551px;top:449px;overflow:visible" width="11.5" height="11" viewBox="0 0 11.5 11"><path d="M5.75 0.6 L7.3 3.9 L11 4.3 L8.3 6.8 L9.1 10.5 L5.75 8.6 L2.4 10.5 L3.2 6.8 L0.5 4.3 L4.2 3.9 Z" fill="#6576ff" stroke="#6576ff" stroke-width="0.8" stroke-linejoin="round"/></svg>
<svg style="position:absolute;left:955.9px;top:492.9px;overflow:visible" width="18" height="18" viewBox="0 0 18 18"><circle cx="9" cy="9" r="9" fill="#fff"/><circle cx="9" cy="9" r="8.1" fill="#cdd2da"/><clipPath id="cp9559"><circle cx="9" cy="9" r="8.1"/></clipPath><g clip-path="url(#cp9559)"><path d="M1.5 18 Q2.5 12.6 9 12.6 Q15.5 12.6 16.5 18 Z" fill="#1f2430"/><ellipse cx="9" cy="8.6" rx="3.5" ry="4.4" fill="#b38f7b"/><path d="M5.4 7 Q5.2 3.2 9 3.2 Q12.8 3.2 12.6 7 Q11 5 9 5.2 Q7 5 5.4 7 Z" fill="#2a211d"/></g></svg>
<svg style="position:absolute;left:968.6999999999999px;top:492.9px;overflow:visible" width="18" height="18" viewBox="0 0 18 18"><circle cx="9" cy="9" r="9" fill="#fff"/><circle cx="9" cy="9" r="8.1" fill="#816bff"/><text x="9" y="11.6" text-anchor="middle" font-family="Liberation Sans" font-weight="700" font-size="7" fill="#fff">IH</text></svg>
<svg style="position:absolute;left:981.5px;top:492.9px;overflow:visible" width="18" height="18" viewBox="0 0 18 18"><circle cx="9" cy="9" r="9" fill="#fff"/><circle cx="9" cy="9" r="8.1" fill="#ff63a5"/><text x="9" y="11.6" text-anchor="middle" font-family="Liberation Sans" font-weight="700" font-size="7" fill="#fff">AB</text></svg>
<svg style="position:absolute;left:994.3px;top:492.9px;overflow:visible" width="18" height="18" viewBox="0 0 18 18"><circle cx="9" cy="9" r="9" fill="#fff"/><circle cx="9" cy="9" r="8.1" fill="#e5e9f2"/><text x="9" y="11.6" text-anchor="middle" font-family="Liberation Sans" font-weight="700" font-size="7" fill="#364a63">+2</text></svg>
<svg style="position:absolute;left:956.1px;top:630.4px;overflow:visible" width="18" height="18" viewBox="0 0 18 18"><circle cx="9" cy="9" r="9" fill="#fff"/><circle cx="9" cy="9" r="8.1" fill="#ff63a5"/><text x="9" y="11.6" text-anchor="middle" font-family="Liberation Sans" font-weight="700" font-size="7" fill="#fff">AB</text></svg>
<svg style="position:absolute;left:968.9px;top:630.4px;overflow:visible" width="18" height="18" viewBox="0 0 18 18"><circle cx="9" cy="9" r="9" fill="#fff"/><circle cx="9" cy="9" r="8.1" fill="#816bff"/><text x="9" y="11.6" text-anchor="middle" font-family="Liberation Sans" font-weight="700" font-size="7" fill="#fff">IH</text></svg>
<svg style="position:absolute;left:981.7px;top:630.4px;overflow:visible" width="18" height="18" viewBox="0 0 18 18"><circle cx="9" cy="9" r="9" fill="#fff"/><circle cx="9" cy="9" r="8.1" fill="#cdd2da"/><clipPath id="cp9817"><circle cx="9" cy="9" r="8.1"/></clipPath><g clip-path="url(#cp9817)"><path d="M1.5 18 Q2.5 12.6 9 12.6 Q15.5 12.6 16.5 18 Z" fill="#1f2430"/><ellipse cx="9" cy="8.6" rx="3.5" ry="4.4" fill="#b38f7b"/><path d="M5.4 7 Q5.2 3.2 9 3.2 Q12.8 3.2 12.6 7 Q11 5 9 5.2 Q7 5 5.4 7 Z" fill="#2a211d"/></g></svg>
<!--ICONS-->
</body></html>
